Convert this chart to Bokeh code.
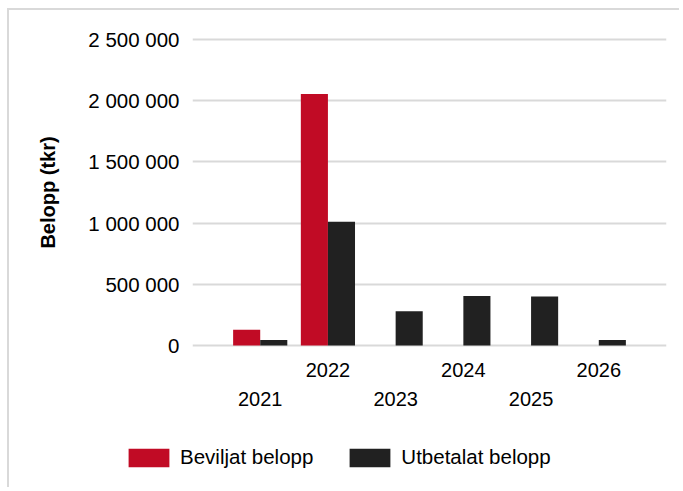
from bokeh.plotting import figure
from bokeh.layouts import column, row
from bokeh.models import Range1d, FixedTicker, LinearAxis, Legend, LegendItem, ColumnDataSource
from bokeh.transform import dodge
from bokeh.embed import file_html
from bokeh.resources import INLINE

# ---- data ----
years = ["2021", "2022", "2023", "2024", "2025", "2026"]
x_pos = [1, 2, 3, 4, 5, 6]
beviljat = [128000, 2055000, 0, 0, 0, 0]
utbetalat = [44000, 1012000, 280000, 405000, 400000, 44000]
y_ticks = [0, 500000, 1000000, 1500000, 2000000, 2500000]
series_names = ["Beviljat belopp", "Utbetalat belopp"]
colors = ["#C10B25", "#212121"]

FONT = "Liberation Sans"
FS = "20px"
FS_Y = "20.5px"
FS_LEG = "20.5px"
BORDER = "2px solid #d9d9d9"

src = ColumnDataSource(dict(x=x_pos, year=years, beviljat=beviljat, utbetalat=utbetalat))

p = figure(width=672, height=403, output_backend="svg", toolbar_location=None,
           x_range=Range1d(0, 7), y_range=Range1d(-24500, 2524500),
           min_border_left=183, min_border_right=15, min_border_top=26, min_border_bottom=65)
p.styles = {"border-top": BORDER, "border-left": BORDER}

r1 = p.vbar(x=dodge("x", -0.2), top="beviljat", bottom=0, width=0.4, source=src,
            fill_color=colors[0], line_color=None)
r2 = p.vbar(x=dodge("x", 0.2), top="utbetalat", bottom=0, width=0.4, source=src,
            fill_color=colors[1], line_color=None)

p.outline_line_color = None
p.xgrid.visible = False
p.ygrid.grid_line_color = "#d9d9d9"
p.ygrid.grid_line_width = 2

# y axis
yax = p.yaxis[0]
yax.ticker = FixedTicker(ticks=y_ticks)
yax.major_label_overrides = {t: f"{t:,}".replace(",", " ") for t in y_ticks}
yax.axis_line_color = None
yax.major_tick_out = 0
yax.major_tick_in = 0
yax.minor_tick_out = 0
yax.minor_tick_in = 0
yax.major_label_standoff = 13
yax.major_label_text_font = FONT
yax.major_label_text_font_size = FS_Y
yax.major_label_text_color = "#000000"
yax.axis_label = "Belopp (tkr)"
yax.axis_label_text_font = FONT
yax.axis_label_text_font_size = FS
yax.axis_label_text_font_style = "bold"
yax.axis_label_text_color = "#000000"
yax.axis_label_standoff = 26

# x axes (staggered labels)
even_ticks = [x for x, y in zip(x_pos, years) if int(y) % 2 == 0]
odd_ticks = [x for x, y in zip(x_pos, years) if int(y) % 2 == 1]

def style_x(ax, ticks, standoff):
    ax.ticker = FixedTicker(ticks=ticks)
    ax.major_label_overrides = {x: y for x, y in zip(x_pos, years) if x in ticks}
    ax.axis_line_color = None
    ax.major_tick_out = 0
    ax.major_tick_in = 0
    ax.minor_tick_out = 0
    ax.minor_tick_in = 0
    ax.major_label_standoff = standoff
    ax.major_label_text_font = FONT
    ax.major_label_text_font_size = FS
    ax.major_label_text_color = "#000000"

style_x(p.xaxis[0], even_ticks, 14)
ax2 = LinearAxis()
style_x(ax2, odd_ticks, 12)
p.add_layout(ax2, "below")

# ---- legend strip below the chart (legend proxies have zero width: invisible) ----
lf = figure(width=672, height=76, output_backend="svg", toolbar_location=None,
            x_range=Range1d(0, 7), y_range=Range1d(0, 1e9),
            x_axis_type=None, y_axis_type=None,
            min_border_left=0, min_border_right=0, min_border_top=0, min_border_bottom=0)
lf.styles = {"border-left": BORDER}
lf.outline_line_color = None
lf.xgrid.visible = False
lf.ygrid.visible = False
l1 = lf.vbar(x="x", top="beviljat", bottom=0, width=0, source=src,
             fill_color=colors[0], line_color=None)
l2 = lf.vbar(x="x", top="utbetalat", bottom=0, width=0, source=src,
             fill_color=colors[1], line_color=None)

legend = Legend(items=[LegendItem(label=series_names[0], renderers=[l1]),
                       LegendItem(label=series_names[1], renderers=[l2])],
                orientation="horizontal", location=(114, 18),
                glyph_width=51, glyph_height=23, label_standoff=6, spacing=31,
                padding=0, margin=0, border_line_color=None, background_fill_alpha=0,
                label_text_font=FONT, label_text_font_size=FS_LEG, label_text_color="#000000")
lf.add_layout(legend)

layout = column(p, row(lf), spacing=0)
layout.styles = {"margin-left": "7px", "margin-top": "8px"}
open("out.html", "w").write(file_html(layout, INLINE))
